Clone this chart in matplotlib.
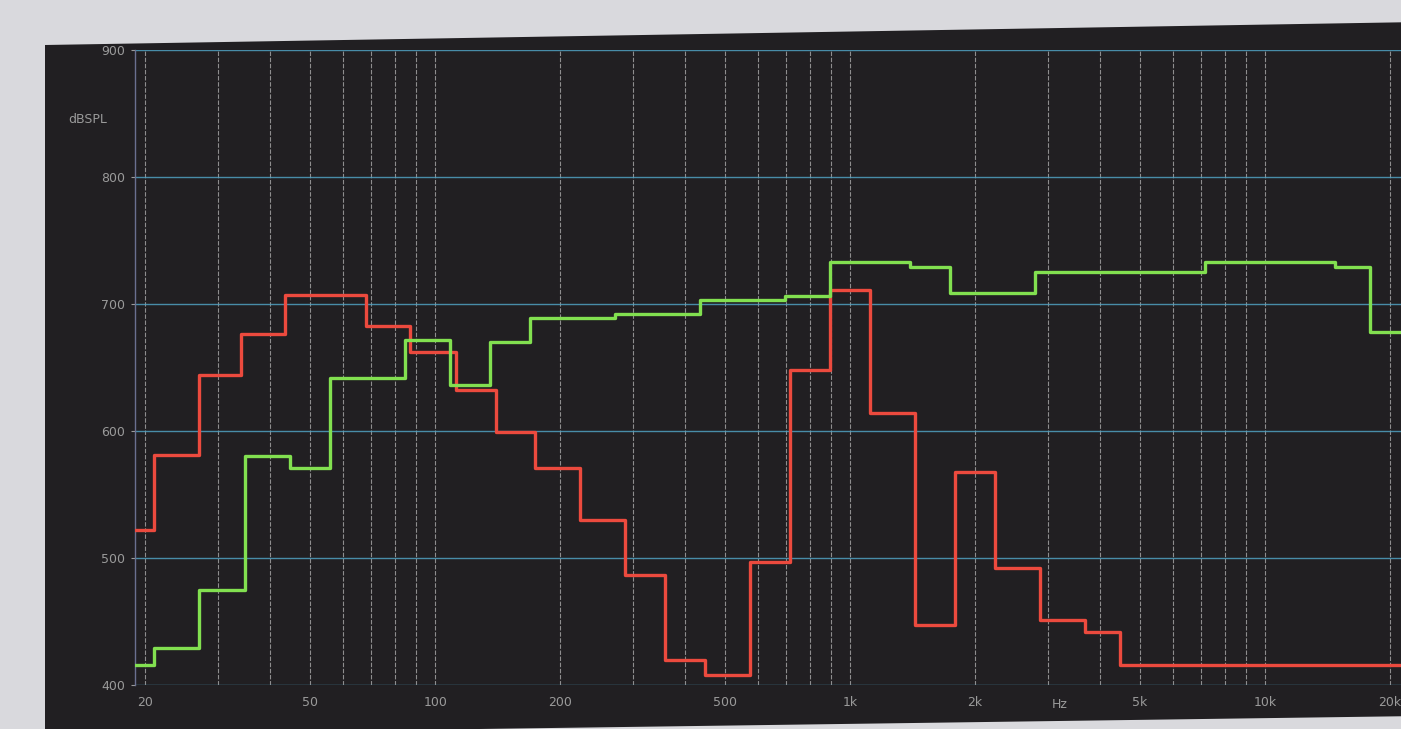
import matplotlib
matplotlib.use("Agg")
import matplotlib.pyplot as plt
from matplotlib.patches import Polygon
import numpy as np

# ---- data ----
red_freq = [19, 21, 27, 34, 43.5, 68, 87, 112, 140, 174, 224, 287, 358, 447,
            574, 717, 895, 1117, 1435, 1790, 2240, 2870, 3680, 4480, 22000]
red_level = [522, 581, 644, 676, 707, 683, 662, 632, 599, 571, 530, 487, 420,
             408, 497, 648, 711, 614, 447, 568, 492, 451, 442, 416, 416]

green_freq = [19, 21, 27, 34.8, 44.7, 55.8, 84.7, 108.7, 135.7, 169, 271, 435,
              697, 895, 1395, 1741, 2790, 7170, 14750, 17900, 22000]
green_level = [416, 429, 475, 580, 571, 642, 672, 636, 670, 689, 692, 703,
               706, 733, 729, 709, 725, 733, 729, 678, 678]

y_ticks = [400, 500, 600, 700, 800, 900]
y_ticklabels = ["400", "500", "600", "700", "800", "900"]
x_ticks = [20, 50, 100, 200, 500, 1000, 2000, 5000, 10000, 20000]
x_ticklabels = ["20", "50", "100", "200", "500", "1k", "2k", "5k", "10k", "20k"]
grid_freqs = [m * 10 ** e for e in range(1, 5) for m in range(1, 10)]

W, H = 1401, 729
fig = plt.figure(figsize=(W / 100, H / 100), dpi=100)
fig.patch.set_facecolor("#d9d9dd")

# dark screen panel (photo, slightly skewed)
panel = Polygon([(45 / W, 1 - 45 / H), (1420 / W, 1 - 22 / H),
                 (1420 / W, 1 - 716 / H), (45 / W, 1 - 735 / H)],
                closed=True, transform=fig.transFigure,
                facecolor="#211f22", edgecolor="none", zorder=-5)
fig.add_artist(panel)

left, right, top, bottom = 135, 1401, 50, 685
ax = fig.add_axes([left / W, 1 - bottom / H, (right - left) / W, (bottom - top) / H])
ax.set_zorder(2)
ax.set_facecolor("#211f22")
ax.set_xscale("log")
ax.set_xlim(18.9, 21280)
ax.set_ylim(400, 900)

for f in grid_freqs:
    if 19 < f < 21300:
        ax.axvline(f, color="#d8d8d8", lw=0.8, ls=(0, (4, 1.5)), alpha=0.6, zorder=1)
for y in y_ticks:
    ax.axhline(y, color="#4fa0c0", lw=1.0, alpha=0.85, zorder=1)

ax.step(red_freq, red_level, where="post", color="#ec4a3e", lw=2.4, zorder=3)
ax.step(green_freq, green_level, where="post", color="#82e050", lw=2.4, zorder=3)

for s in ["top", "right", "bottom"]:
    ax.spines[s].set_visible(False)
ax.spines["left"].set_color("#6a7090")
ax.spines["left"].set_linewidth(1.0)

ax.set_yticks(y_ticks)
ax.set_yticklabels(y_ticklabels)
ax.set_xticks(x_ticks)
ax.set_xticklabels(x_ticklabels)
ax.minorticks_off()
ax.tick_params(axis="both", colors="#9a9a9a", labelsize=9, length=3)
ax.tick_params(axis="x", length=0, pad=8)
ax.tick_params(axis="y", pad=4)

ax.text(-0.022, 845, "dBSPL", transform=ax.get_yaxis_transform(),
        ha="right", va="center", color="#9a9a9a", fontsize=9)
ax.text(3200, 390, "Hz", ha="center", va="top", color="#9a9a9a",
        fontsize=9, clip_on=False)

fig.savefig("out.png", dpi=100, facecolor=fig.get_facecolor())
